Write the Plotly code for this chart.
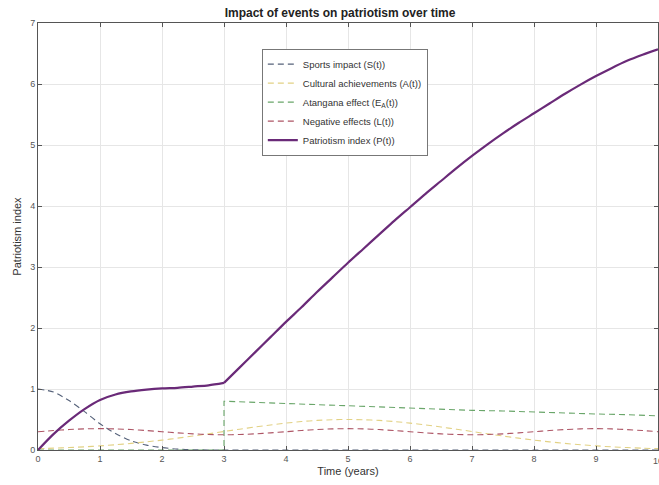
import plotly.graph_objects as go

# time grid (years)
t = [i * 0.25 for i in range(41)]

sports = [1.00, 0.95, 0.81, 0.63, 0.43, 0.27, 0.15, 0.08, 0.04, 0.015, 0.005, 0.0,
          0.0, 0.0, 0.0, 0.0, 0.0, 0.0, 0.0, 0.0, 0.0, 0.0, 0.0, 0.0, 0.0, 0.0, 0.0,
          0.0, 0.0, 0.0, 0.0, 0.0, 0.0, 0.0, 0.0, 0.0, 0.0, 0.0, 0.0, 0.0, 0.0]

cultural = [0.022, 0.030, 0.040, 0.052, 0.068, 0.086, 0.108, 0.134, 0.162, 0.194,
            0.229, 0.265, 0.303, 0.341, 0.377, 0.411, 0.441, 0.466, 0.485, 0.496,
            0.500, 0.496, 0.485, 0.466, 0.441, 0.411, 0.377, 0.341, 0.303, 0.265,
            0.229, 0.194, 0.162, 0.134, 0.108, 0.086, 0.068, 0.052, 0.040, 0.030, 0.022]

negative = [0.300, 0.319, 0.335, 0.346, 0.350, 0.346, 0.335, 0.319, 0.300, 0.281,
            0.265, 0.254, 0.250, 0.254, 0.265, 0.281, 0.300, 0.319, 0.335, 0.346,
            0.350, 0.346, 0.335, 0.319, 0.300, 0.281, 0.265, 0.254, 0.250, 0.254,
            0.265, 0.281, 0.300, 0.319, 0.335, 0.346, 0.350, 0.346, 0.335, 0.319, 0.300]

# patriotism index, split at the kink at t = 3
t_p1 = t[:13]
patriotism_1 = [0.00, 0.26, 0.48, 0.67, 0.82, 0.91, 0.96, 0.99, 1.01, 1.02, 1.04, 1.06, 1.10]
t_p2 = t[12:]
patriotism_2 = [1.10, 1.35, 1.60, 1.85, 2.10, 2.34, 2.59, 2.83, 3.07, 3.30, 3.53, 3.76,
                3.98, 4.20, 4.41, 4.62, 4.82, 5.01, 5.19, 5.36, 5.52, 5.68, 5.84, 5.99,
                6.13, 6.26, 6.38, 6.48, 6.57]

# Atangana effect switches on at t = 3
t_atangana = [0, 3, 3, 3.5, 4, 4.5, 5, 5.5, 6, 6.5, 7, 7.5, 8, 8.5, 9, 9.5, 10]
atangana = [0.0, 0.0, 0.80, 0.78, 0.76, 0.74, 0.72, 0.71, 0.69, 0.67, 0.65, 0.64,
            0.62, 0.61, 0.59, 0.58, 0.56]

x_ticks = list(range(0, 11))
y_ticks = list(range(0, 8))

font_family = "Liberation Sans, Arial"
dash = "6px,4px"
purple = "#6a2a78"

fig = go.Figure()
fig.add_trace(go.Scatter(x=t, y=sports, mode="lines", name="Sports impact (S(t))",
                         line=dict(color="#56627a", width=1.1, dash=dash,
                                   shape="spline", smoothing=0.8)))
fig.add_trace(go.Scatter(x=t, y=cultural, mode="lines", name="Cultural achievements (A(t))",
                         line=dict(color="#e2d184", width=1.1, dash=dash,
                                   shape="spline", smoothing=0.8)))
fig.add_trace(go.Scatter(x=t_atangana, y=atangana, mode="lines",
                         name="Atangana effect (E<sub>A</sub>(t))",
                         line=dict(color="#6aa66a", width=1.1, dash=dash)))
fig.add_trace(go.Scatter(x=t, y=negative, mode="lines", name="Negative effects (L(t))",
                         line=dict(color="#ad5565", width=1.1, dash=dash,
                                   shape="spline", smoothing=0.8)))
fig.add_trace(go.Scatter(x=t_p1, y=patriotism_1, mode="lines", name="Patriotism index (P(t))",
                         legendgroup="p", line=dict(color=purple, width=2.2,
                                                    shape="spline", smoothing=0.8)))
fig.add_trace(go.Scatter(x=t_p2, y=patriotism_2, mode="lines", showlegend=False,
                         legendgroup="p", line=dict(color=purple, width=2.2,
                                                    shape="spline", smoothing=0.8)))

axis_common = dict(
    showgrid=True, gridcolor="#e6e6e6", gridwidth=1,
    showline=True, linecolor="#555555", linewidth=1, mirror="allticks",
    ticks="inside", ticklen=4, tickcolor="#555555",
    tickfont=dict(family=font_family, size=9, color="#555555"),
    zeroline=False,
)

fig.update_layout(
    width=659, height=485,
    margin=dict(l=38, r=1, t=23, b=35),
    paper_bgcolor="white", plot_bgcolor="white",
    title=dict(text="<b>Impact of events on patriotism over time</b>",
               x=0.516, xanchor="center", y=0.973, yanchor="middle",
               font=dict(family=font_family, size=12, color="#222222")),
    xaxis=dict(range=[0, 10], tickvals=x_ticks,
               title=dict(text="Time (years)", standoff=4,
                          font=dict(family=font_family, size=11, color="#333333")),
               **axis_common),
    yaxis=dict(range=[0, 7], tickvals=y_ticks,
               title=dict(text="Patriotism index", standoff=6,
                          font=dict(family=font_family, size=11, color="#333333")),
               **axis_common),
    legend=dict(x=0.361, y=0.94, xanchor="left", yanchor="top",
                bgcolor="white", bordercolor="#777777", borderwidth=1,
                font=dict(family=font_family, size=9.5, color="#333333"),
                tracegroupgap=0, itemwidth=30),
    showlegend=True,
)

# last x tick label sits at the right edge of the page
fig.add_annotation(x=10, y=0, xref="x", yref="paper", yshift=-4,
                   text="10", showarrow=False, xanchor="center", yanchor="top",
                   font=dict(family=font_family, size=9, color="#555555"))

fig.write_html("out.html")
